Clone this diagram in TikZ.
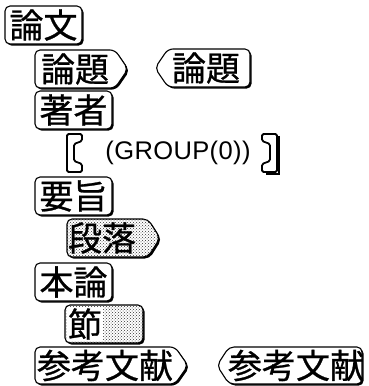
\documentclass[tikz,border=0pt]{standalone}
\usepackage{fontspec}
\setmainfont{Liberation Sans}
\newfontfamily\jp[FakeBold=0.8]{Noto Sans CJK JP}
\usetikzlibrary{patterns}
\newcommand\shpPlain[4]{(#1,#2) rectangle (#3,#4)}
\newcommand\shpStart[5]{(#1,#2) -- (#3,#2) -- (#5,{(#2+#4)/2}) -- (#3,#4) -- (#1,#4) -- cycle}
\newcommand\shpEnd[5]{(#5,{(#2+#4)/2}) -- (#1,#2) -- (#3,#2) -- (#3,#4) -- (#1,#4) -- cycle}
\tikzset{
  boxline/.style={draw=black, line width=1.1pt, rounded corners=5pt, fill=white},
  shadowfill/.style={fill=black, rounded corners=5pt, shift={(1.6pt,-1.6pt)}},
  dotted fill/.style={draw=black, line width=1.1pt, rounded corners=5pt, pattern=crosshatch dots, pattern color=black!80},
  jptext/.style={font=\jp\fontsize{34}{34}\selectfont, inner sep=0pt},
  grouptext/.style={font=\addfontfeature{LetterSpace=1.5}\fontsize{25.5}{25.5}\selectfont, inner sep=0pt},
  bracketline/.style={draw=black, line width=1.8pt, rounded corners=1.5pt, line join=round}
}
\begin{document}
\begin{tikzpicture}[x=1pt,y=-1pt]
\useasboundingbox (0,0) rectangle (368,386);
% 論文
\fill[shadowfill] \shpPlain{5}{6}{82}{44};
\path[boxline] \shpPlain{5}{6}{82}{44};
\node[jptext] (ronbun) at (43.5,25) {論文};
% 論題 start tag
\fill[shadowfill] \shpStart{35}{50}{115}{88}{128};
\path[boxline] \shpStart{35}{50}{115}{88}{128};
\node[jptext] (rondaiS) at (75,69) {論題};
% 論題 end tag
\fill[shadowfill] \shpEnd{168}{49}{250}{87}{155};
\path[boxline] \shpEnd{168}{49}{250}{87}{155};
\node[jptext] (rondaiE) at (206,68) {論題};
% 著者
\fill[shadowfill] \shpPlain{35}{91}{112}{129};
\path[boxline] \shpPlain{35}{91}{112}{129};
\node[jptext] (chosha) at (73.5,110) {著者};
% GROUP brackets
\path[bracketline] (67,134) -- (82,134) -- (82,141) -- (74,144) -- (74,161) -- (82,164) -- (82,172) -- (67,172) -- cycle;
\node[grouptext] (group) at (178,153) {(GROUP(0))};
\path[bracketline] (277,134) -- (262,134) -- (262,141) -- (270,144) -- (270,161) -- (262,164) -- (262,172) -- (277,172) -- cycle;
\draw[line width=1.4pt] (279,136) -- (279,174) -- (266,174);
% 要旨
\fill[shadowfill] \shpPlain{35}{177}{112}{215};
\path[boxline] \shpPlain{35}{177}{112}{215};
\node[jptext] (yoshi) at (73.5,196) {要旨};
% 段落 shaded start tag
\fill[shadowfill] \shpStart{67}{219}{148}{257}{160};
\fill[white, rounded corners=5pt] \shpStart{67}{219}{148}{257}{160};
\path[dotted fill] \shpStart{67}{219}{148}{257}{160};
\node[jptext] (danraku) at (102,238) {段落};
% 本論
\fill[shadowfill] \shpPlain{35}{263}{112}{301};
\path[boxline] \shpPlain{35}{263}{112}{301};
\node[jptext] (honron) at (73.5,282) {本論};
% 節 shaded
\fill[shadowfill] \shpPlain{65}{305}{143}{343};
\fill[white, rounded corners=5pt] \shpPlain{65}{305}{143}{343};
\path[dotted fill] \shpPlain{65}{305}{143}{343};
\node[jptext, fill=white, inner sep=1pt] (setsu) at (85,324) {節};
% 参考文献 start tag
\fill[shadowfill] \shpStart{35}{347}{175}{384}{188};
\path[boxline] \shpStart{35}{347}{175}{384}{188};
\node[jptext] (sankoS) at (105,365.5) {参考文献};
% 参考文献 end tag
\fill[shadowfill] \shpEnd{229}{347}{362}{384}{217};
\path[boxline] \shpEnd{229}{347}{362}{384}{217};
\node[jptext] (sankoE) at (296,365.5) {参考文献};
\end{tikzpicture}
\end{document}
